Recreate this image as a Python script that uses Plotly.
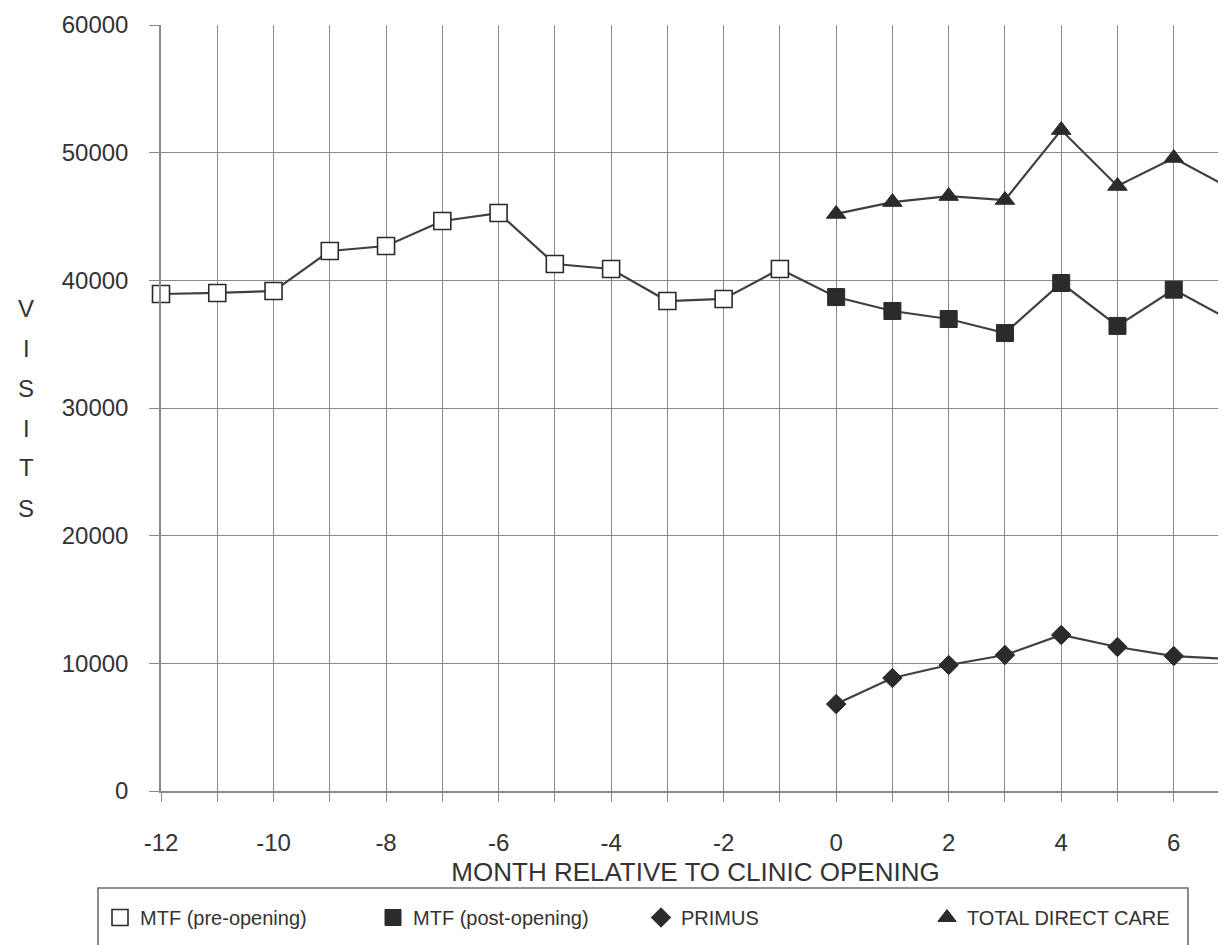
import plotly.graph_objects as go

months_pre = list(range(-12, 0))
months_post = list(range(0, 8))

mtf_pre = [38930, 39010, 39160, 42300, 42690, 44650, 45270, 41280, 40890, 38380, 38540, 40890]
mtf_post = [38690, 37600, 36970, 35870, 39790, 36430, 39270, 36900]
primus = [6810, 8850, 9870, 10650, 12220, 11280, 10570, 10340]
total_direct = [45200, 46130, 46600, 46290, 51770, 47390, 49580, 47230]

tick_vals = list(range(-12, 8))
tick_text = [str(m) if m % 2 == 0 and m <= 6 else "" for m in tick_vals]
y_ticks = [0, 10000, 20000, 30000, 40000, 50000, 60000]
y_title_letters = ["V", "I", "S", "I", "T", "S"]

FONT = "Liberation Sans, Arial, sans-serif"
LINE_C = "#404040"
MARK_C = "#2b2b2b"
GRID_C = "#8a8a8a"
TEXT_C = "#333333"

fig = go.Figure()

# connecting lines (no legend)
fig.add_trace(go.Scatter(x=months_pre + months_post, y=mtf_pre + mtf_post, mode="lines",
                         line=dict(color=LINE_C, width=2.2), showlegend=False, hoverinfo="skip",
                         cliponaxis=False))
fig.add_trace(go.Scatter(x=months_post, y=primus, mode="lines",
                         line=dict(color=LINE_C, width=2.2), showlegend=False, hoverinfo="skip",
                         cliponaxis=False))
fig.add_trace(go.Scatter(x=months_post, y=total_direct, mode="lines",
                         line=dict(color=LINE_C, width=2.2), showlegend=False, hoverinfo="skip",
                         cliponaxis=False))

# markers (legend entries)
fig.add_trace(go.Scatter(x=months_pre, y=mtf_pre, mode="markers", name="MTF (pre-opening)",
                         marker=dict(symbol="square", size=17, color="white",
                                     line=dict(color=MARK_C, width=1.6)),
                         legendwidth=228, cliponaxis=False))
fig.add_trace(go.Scatter(x=months_post, y=mtf_post, mode="markers", name="MTF (post-opening)",
                         marker=dict(symbol="square", size=17, color=MARK_C,
                                     line=dict(color=MARK_C, width=1)),
                         legendwidth=223, cliponaxis=False))
fig.add_trace(go.Scatter(x=months_post, y=primus, mode="markers", name="PRIMUS",
                         marker=dict(symbol="diamond", size=15, color=MARK_C,
                                     line=dict(color=MARK_C, width=1)),
                         legendwidth=241, cliponaxis=False))
fig.add_trace(go.Scatter(x=months_post, y=total_direct, mode="markers", name="TOTAL DIRECT CARE",
                         marker=dict(symbol="triangle-up", size=17, color=MARK_C,
                                     line=dict(color=MARK_C, width=1)),
                         cliponaxis=False))

W, H = 1226, 945
ml, mr, mt, mb = 153, 4, 17, 162
pw, ph = W - ml - mr, H - mt - mb


def px_x(p):
    return (p - ml) / pw


def px_y(p):
    return (H - mb - p) / ph


# Legend frame (extends beyond the bottom edge as in the reference)
fig.add_shape(type="rect", xref="paper", yref="paper",
              x0=px_x(90), x1=px_x(1180), y0=px_y(880), y1=px_y(975),
              line=dict(color="#6e6e6e", width=1.6), fillcolor="rgba(0,0,0,0)", layer="above")

# Vertical stacked y-axis title
for i, ch in enumerate(y_title_letters):
    fig.add_annotation(text=ch, xref="paper", yref="paper", x=px_x(18), y=px_y(300 + i * 40),
                       xanchor="center", yanchor="middle", showarrow=False,
                       font=dict(family=FONT, size=24, color=TEXT_C))

fig.update_layout(
    width=W, height=H,
    margin=dict(l=ml, r=mr, t=mt, b=mb, autoexpand=False),
    paper_bgcolor="white", plot_bgcolor="white",
    font=dict(family=FONT, color=TEXT_C),
    legend=dict(orientation="h", x=px_x(92), y=px_y(890), xanchor="left", yanchor="top",
                font=dict(family=FONT, size=20, color=TEXT_C),
                bgcolor="rgba(0,0,0,0)", borderwidth=0, itemsizing="trace",
                traceorder="normal"),
    showlegend=True,
)

fig.update_xaxes(range=[-12, 7], tickmode="array", tickvals=tick_vals, ticktext=tick_text,
                 showgrid=True, gridcolor=GRID_C, gridwidth=1.3,
                 showline=True, linecolor=GRID_C, linewidth=1.5,
                 ticks="outside", ticklen=9, tickcolor=GRID_C, tickwidth=1.3,
                 ticklabelstandoff=20,
                 tickfont=dict(family=FONT, size=24, color=TEXT_C),
                 title=dict(text="MONTH RELATIVE TO CLINIC OPENING",
                            font=dict(family=FONT, size=26, color=TEXT_C), standoff=8),
                 zeroline=False, fixedrange=True)
fig.update_yaxes(range=[0, 60000], tickmode="array", tickvals=y_ticks,
                 ticktext=[str(v) for v in y_ticks],
                 showgrid=True, gridcolor=GRID_C, gridwidth=1.3,
                 showline=True, linecolor=GRID_C, linewidth=1.5,
                 ticks="outside", ticklen=10, tickcolor=GRID_C, tickwidth=1.3,
                 ticklabelstandoff=16,
                 tickfont=dict(family=FONT, size=24, color=TEXT_C),
                 zeroline=False, fixedrange=True)

fig.write_html("out.html")
